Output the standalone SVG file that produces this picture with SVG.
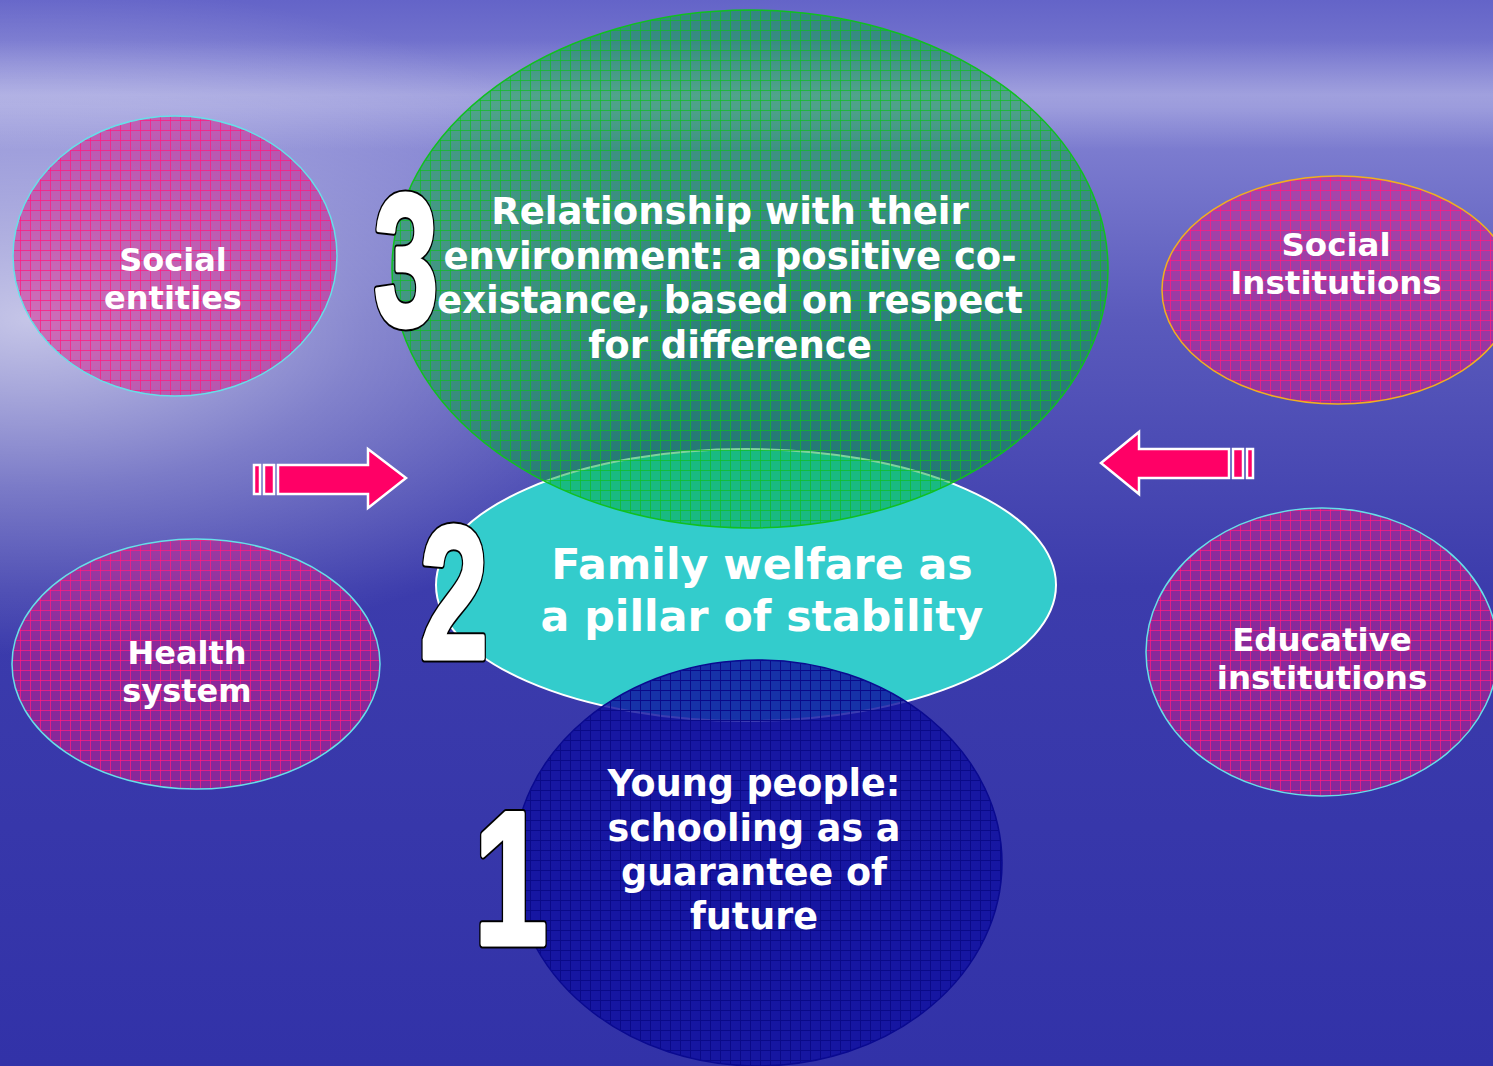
<svg xmlns="http://www.w3.org/2000/svg" width="1493" height="1066" viewBox="0 0 1493 1066">
<style>
.lbl{font-family:"DejaVu Sans","Verdana",sans-serif;font-weight:bold;fill:#fff;text-anchor:middle}
.num{font-family:"Liberation Sans",Arial,sans-serif;font-weight:bold;stroke-linejoin:round}
.numO{fill:#000;stroke:#000;stroke-width:9}
.numI{fill:#fff;stroke:#fff;stroke-width:5}
.arrow{fill:#ff0066;stroke:#fff;stroke-width:2.5;stroke-linejoin:miter}
.pink{fill:#d8188a;fill-opacity:0.5}
</style>
<defs>
<linearGradient id="bg" x1="0" y1="0" x2="0" y2="1">
<stop offset="0" stop-color="#6464c8"/>
<stop offset="0.1" stop-color="#8484d4"/>
<stop offset="0.3" stop-color="#5a5abc"/>
<stop offset="0.55" stop-color="#3c3cac"/>
<stop offset="1" stop-color="#3232a8"/>
</linearGradient>
<radialGradient id="glow" cx="0.02" cy="0.3" r="0.45" gradientTransform="matrix(1 0 0 0.7 0 0.09)">
<stop offset="0" stop-color="#ffffff" stop-opacity="0.65"/>
<stop offset="0.5" stop-color="#ffffff" stop-opacity="0.28"/>
<stop offset="1" stop-color="#ffffff" stop-opacity="0"/>
</radialGradient>
<linearGradient id="band" x1="0" y1="0" x2="0" y2="1">
<stop offset="0" stop-color="#ffffff" stop-opacity="0"/>
<stop offset="0.5" stop-color="#ffffff" stop-opacity="0.25"/>
<stop offset="1" stop-color="#ffffff" stop-opacity="0"/>
</linearGradient>
<pattern id="gridPink" width="10" height="10" patternUnits="userSpaceOnUse">
<path d="M0 0.5H10M0.5 0V10" stroke="#ff1a80" stroke-opacity="0.75" stroke-width="1" fill="none"/>
</pattern>
<pattern id="gridGreen" width="10" height="10" patternUnits="userSpaceOnUse">
<path d="M0 0.5H10M0.5 0V10" stroke="#10c020" stroke-opacity="0.7" stroke-width="1" fill="none"/>
</pattern>
<pattern id="gridBlue" width="10" height="10" patternUnits="userSpaceOnUse">
<path d="M0 0.5H10M0.5 0V10" stroke="#0a0a88" stroke-width="1" fill="none"/>
</pattern>
</defs>
<rect width="1493" height="1066" fill="url(#bg)"/>
<rect width="1493" height="1066" fill="url(#glow)"/>
<rect y="40" width="1493" height="110" fill="url(#band)"/>

<g id="node-social-entities">
<ellipse cx="175" cy="256" rx="162" ry="140" class="pink"/>
<ellipse cx="175" cy="256" rx="162" ry="140" fill="url(#gridPink)" stroke="#66e0e8" stroke-width="1.5"/>
<text class="lbl" font-size="32" x="173" y="271">Social</text>
<text class="lbl" font-size="32" x="173" y="309">entities</text>
</g>

<g id="node-health-system">
<ellipse cx="196" cy="664" rx="184" ry="125" class="pink"/>
<ellipse cx="196" cy="664" rx="184" ry="125" fill="url(#gridPink)" stroke="#66e0e8" stroke-width="1.5"/>
<text class="lbl" font-size="32" x="187" y="664">Health</text>
<text class="lbl" font-size="32" x="187" y="702">system</text>
</g>

<g id="node-social-institutions">
<ellipse cx="1338" cy="290" rx="176" ry="114" class="pink"/>
<ellipse cx="1338" cy="290" rx="176" ry="114" fill="url(#gridPink)" stroke="#f0b020" stroke-width="1.5"/>
<text class="lbl" font-size="32.5" x="1336" y="256">Social</text>
<text class="lbl" font-size="32.5" x="1336" y="294">Institutions</text>
</g>

<g id="node-educative-institutions">
<ellipse cx="1322" cy="652" rx="176" ry="144" class="pink"/>
<ellipse cx="1322" cy="652" rx="176" ry="144" fill="url(#gridPink)" stroke="#66e0e8" stroke-width="1.5"/>
<text class="lbl" font-size="32.5" x="1322" y="651">Educative</text>
<text class="lbl" font-size="32.5" x="1322" y="689">institutions</text>
</g>

<g id="node-family-welfare">
<ellipse cx="746" cy="585" rx="310" ry="136" fill="#33cccc" stroke="#ffffff" stroke-width="2"/>
<text class="lbl" font-size="42.7" x="762" y="579">Family welfare as</text>
<text class="lbl" font-size="42.7" x="762" y="631">a pillar of stability</text>
</g>

<g id="node-relationship">
<ellipse cx="750" cy="269" rx="358" ry="259" fill="#00a838" fill-opacity="0.5"/>
<ellipse cx="750" cy="269" rx="358" ry="259" fill="url(#gridGreen)" stroke="#10c020" stroke-width="1.5"/>
<text class="lbl" font-size="37" x="730" y="224">Relationship with their</text>
<text class="lbl" font-size="37" x="730" y="269">environment: a positive co-</text>
<text class="lbl" font-size="37" x="730" y="313">existance, based on respect</text>
<text class="lbl" font-size="37" x="730" y="358">for difference</text>
</g>

<g id="node-young-people">
<ellipse cx="758" cy="863" rx="244" ry="203" fill="#1010a0" fill-opacity="0.82"/>
<ellipse cx="758" cy="863" rx="244" ry="203" fill="url(#gridBlue)" stroke="#0a0a90" stroke-width="1.5"/>
<text class="lbl" font-size="36.5" x="754" y="796">Young people:</text>
<text class="lbl" font-size="36.5" x="754" y="841">schooling as a</text>
<text class="lbl" font-size="36.5" x="754" y="885">guarantee of</text>
<text class="lbl" font-size="36.5" x="754" y="929">future</text>
</g>

<g id="numbers">
<g id="num-3" transform="translate(374 325) scale(0.6 0.98)">
<text class="num numO" font-size="192">3</text>
<text class="num numI" font-size="192">3</text>
</g>
<g id="num-2" transform="translate(420 658) scale(0.63 0.98)">
<text class="num numO" font-size="194">2</text>
<text class="num numI" font-size="194">2</text>
</g>
<g id="num-1" transform="translate(474 944) scale(0.68 0.98)">
<text class="num numO" font-size="194">1</text>
<text class="num numI" font-size="194">1</text>
</g>
</g>

<g id="connectors">
<g id="arrow-left-to-center">
<rect class="arrow" x="254" y="465" width="6" height="29"/>
<rect class="arrow" x="264" y="465" width="10" height="29"/>
<path class="arrow" d="M278 465H368V449L406 478L368 508V494H278Z"/>
</g>
<g id="arrow-right-to-center">
<rect class="arrow" x="1247" y="449" width="6" height="29"/>
<rect class="arrow" x="1233" y="449" width="10" height="29"/>
<path class="arrow" d="M1229 449H1139V432L1101 463L1139 494V478H1229Z"/>
</g>
</g>
</svg>
